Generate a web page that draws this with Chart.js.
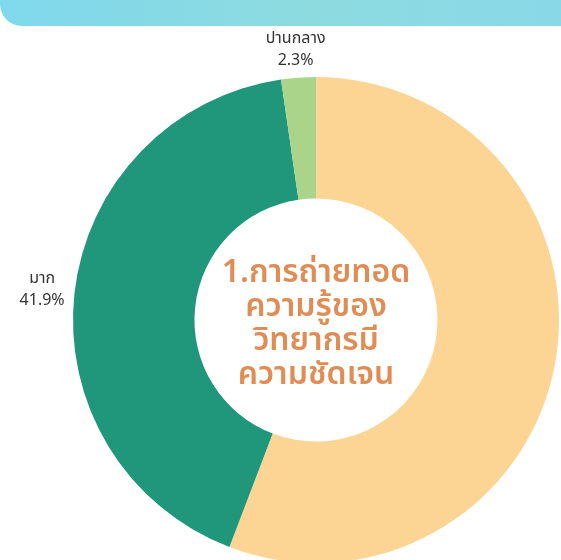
<!DOCTYPE html>
<html>
<head>
<meta charset="utf-8">
<script src="https://cdn.jsdelivr.net/npm/chart.js@4"></script>
<style>
    html, body { margin: 0; padding: 0; background: #fff; overflow: hidden; }
    #wrap { position: relative; width: 561px; height: 560px; overflow: hidden; }
    #top-bar {
        position: absolute; left: 0; top: 0; width: 561px; height: 26px;
        border-bottom-left-radius: 22px;
        background: linear-gradient(90deg, #7fd8ec 0%, #8ddbdf 55%, #88d8e8 100%);
    }
    #chart-box { position: absolute; left: 0; top: 0; width: 620px; height: 620px; }
</style>
</head>
<body>
<div id="wrap">
    <div id="top-bar"></div>
    <div id="chart-box"><canvas id="chart-area" width="620" height="620"></canvas></div>
</div>
<script>
const categories = ['มากที่สุด', 'มาก', 'ปานกลาง'];
const percents = [55.8, 41.9, 2.3];
const sliceColors = ['#fcd595', '#20967a', '#a9d48a'];
const titleLines = ['1.การถ่ายทอด', 'ความรู้ของ', 'วิทยากรมี', 'ความชัดเจน'];

const thaiFont = '"Noto Sans Thai", "Noto Sans Thai Looped", "Noto Sans", sans-serif';

// labels outside each slice, plus the question text in the hole
const doughnutText = {
    id: 'doughnutText',
    afterDraw: function(chart) {
        const ctx = chart.ctx;
        const meta = chart.getDatasetMeta(0);
        ctx.save();
        ctx.textAlign = 'center';
        ctx.textBaseline = 'middle';
        ctx.font = '16px ' + thaiFont;
        meta.data.forEach(function(arc, i) {
            const mid = (arc.startAngle + arc.endAngle) / 2;
            const dx = Math.cos(mid), dy = Math.sin(mid);
            const r = arc.outerRadius + 10;
            const pct = percents[i] + '%';
            // push the two-line block out so its edge sits at the anchor
            const halfW = Math.max(ctx.measureText(categories[i]).width, ctx.measureText(pct).width) / 2;
            const halfH = 17;
            const x = arc.x + dx * r + dx * halfW;
            const y = arc.y + dy * r + dy * halfH;
            ctx.fillStyle = '#333';
            ctx.fillText(categories[i], x, y - 11);
            ctx.fillText(pct, x, y + 11);
        });

        const cx0 = meta.data[0].x, cy0 = meta.data[0].y;
        ctx.fillStyle = '#e08d55';
        ctx.font = '600 32px ' + thaiFont;
        const lineH = 34;
        const start = cy0 + 7 - lineH * (titleLines.length - 1) / 2;
        titleLines.forEach(function(line, i) {
            ctx.fillText(line, cx0, start + i * lineH);
        });
        ctx.restore();
    }
};

var config = {
    type: 'doughnut',
    data: {
        labels: categories,
        datasets: [{
            data: percents,
            backgroundColor: sliceColors,
            borderWidth: 0
        }]
    },
    options: {
        responsive: false,
        animation: false,
        cutout: '50%',
        layout: {
            padding: { left: 73, top: 77, right: 61, bottom: 57 }
        },
        plugins: {
            legend: { display: false },
            tooltip: { enabled: false }
        }
    },
    plugins: [doughnutText]
};

window.onload = function() {
    var ctx = document.getElementById('chart-area').getContext('2d');
    window.myDoughnut = new Chart(ctx, config);
};
</script>
</body>
</html>
